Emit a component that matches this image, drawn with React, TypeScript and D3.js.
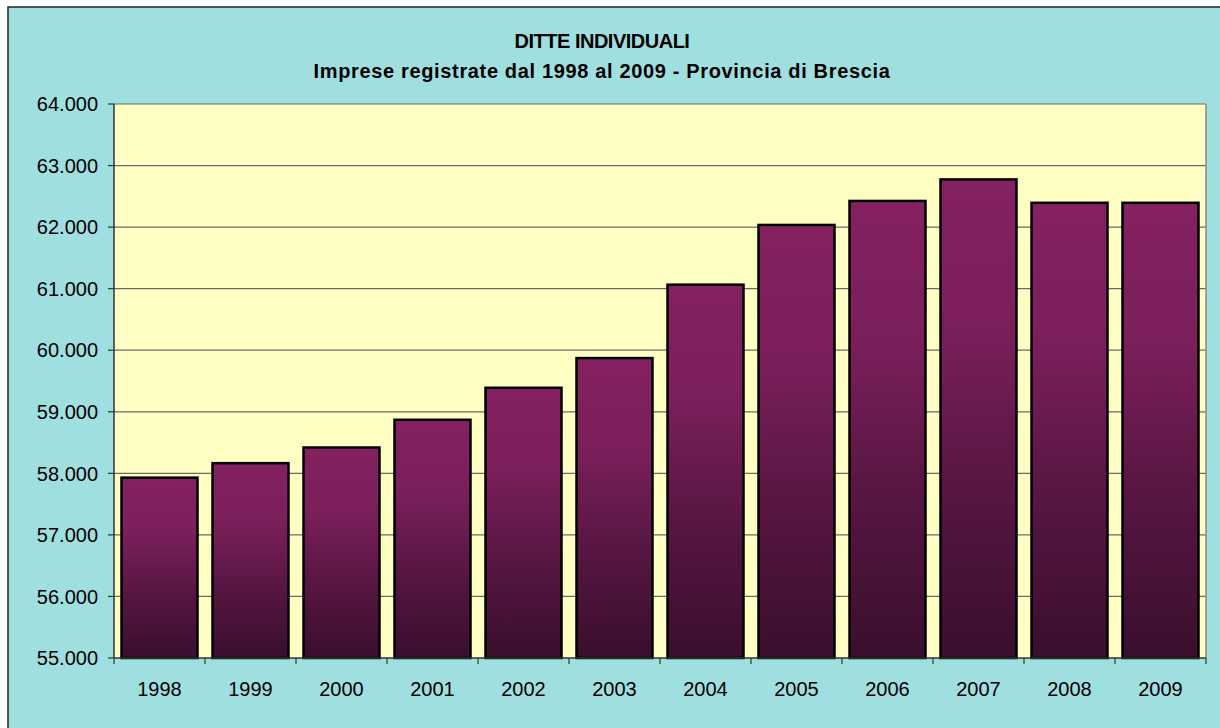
import React from "react";
import * as d3 from "d3";

const years = ["1998", "1999", "2000", "2001", "2002", "2003", "2004", "2005", "2006", "2007", "2008", "2009"];
const values = [57930, 58165, 58420, 58870, 59390, 59872, 61065, 62035, 62425, 62775, 62395, 62395];
const yTicks = [55000, 56000, 57000, 58000, 59000, 60000, 61000, 62000, 63000, 64000];
const titleLine1 = "DITTE INDIVIDUALI";
const titleLine2 = "Imprese registrate dal 1998 al 2009 - Provincia di Brescia";

const W = 1220;
const H = 728;
const plot = { left: 114, top: 104, right: 1206, bottom: 658 };

const fmt = (v: number) => {
  const s = String(v);
  return s.replace(/\B(?=(\d{3})+(?!\d))/g, ".");
};

export default function App() {
  const x = d3
    .scaleBand<string>()
    .domain(years)
    .range([plot.left, plot.right])
    .paddingInner(1 - 76 / 91)
    .paddingOuter((1 - 76 / 91) / 2);
  const y = d3.scaleLinear().domain([55000, 64000]).range([plot.bottom, plot.top]);
  const band = (plot.right - plot.left) / years.length;
  const font = "'Liberation Sans', Arial, sans-serif";

  return (
    <svg width={W} height={H} style={{ position: "absolute", left: 0, top: 0 }} fontFamily={font}>
      <defs>
        <linearGradient id="barGrad" x1="0" y1="0" x2="0" y2="1">
          <stop offset="0" stopColor="#842161" />
          <stop offset="0.3" stopColor="#7b1f5b" />
          <stop offset="0.65" stopColor="#561641" />
          <stop offset="1" stopColor="#3a0e2c" />
        </linearGradient>
      </defs>
      <rect x={0} y={0} width={W} height={H} fill="#ffffff" />
      <rect x={8} y={7} width={W} height={H} fill="#a0dfe0" stroke="#222" strokeWidth={1.5} />
      <text x={602} y={48} textAnchor="middle" fontSize={20} fontWeight="bold" letterSpacing={-0.5}>
        {titleLine1}
      </text>
      <text x={602} y={78} textAnchor="middle" fontSize={20} fontWeight="bold" letterSpacing={0.65}>
        {titleLine2}
      </text>
      <rect x={plot.left} y={plot.top} width={plot.right - plot.left} height={plot.bottom - plot.top} fill="#ffffc4" />
      {yTicks.map((t) => (
        <g key={t}>
          {t !== 55000 && (
            <line x1={plot.left} x2={plot.right} y1={y(t)} y2={y(t)} stroke="#6b6b6b" strokeWidth={1.2} />
          )}
          <line x1={plot.left - 6} x2={plot.left} y1={y(t)} y2={y(t)} stroke="#333" strokeWidth={1.2} />
          <text x={98} y={y(t)} dy="0.36em" textAnchor="end" fontSize={20} fill="#000">
            {fmt(t)}
          </text>
        </g>
      ))}
      <line x1={plot.right} x2={plot.right} y1={plot.top} y2={plot.bottom} stroke="#888" strokeWidth={1.5} />
      {years.map((yr, i) => (
        <rect
          key={yr}
          x={x(yr)}
          y={y(values[i])}
          width={x.bandwidth()}
          height={plot.bottom - y(values[i])}
          fill="url(#barGrad)"
          stroke="#000"
          strokeWidth={2.5}
        />
      ))}
      <line x1={plot.left} x2={plot.left} y1={plot.top} y2={plot.bottom} stroke="#333" strokeWidth={1.5} />
      <line x1={plot.left} x2={plot.right} y1={plot.bottom} y2={plot.bottom} stroke="#333" strokeWidth={1.5} />
      {d3.range(years.length + 1).map((i) => (
        <line
          key={i}
          x1={plot.left + i * band}
          x2={plot.left + i * band}
          y1={plot.bottom}
          y2={plot.bottom + 6}
          stroke="#333"
          strokeWidth={1.2}
        />
      ))}
      {years.map((yr) => (
        <text key={yr} x={(x(yr) as number) + x.bandwidth() / 2} y={696} textAnchor="middle" fontSize={20} fill="#000">
          {yr}
        </text>
      ))}
    </svg>
  );
}
